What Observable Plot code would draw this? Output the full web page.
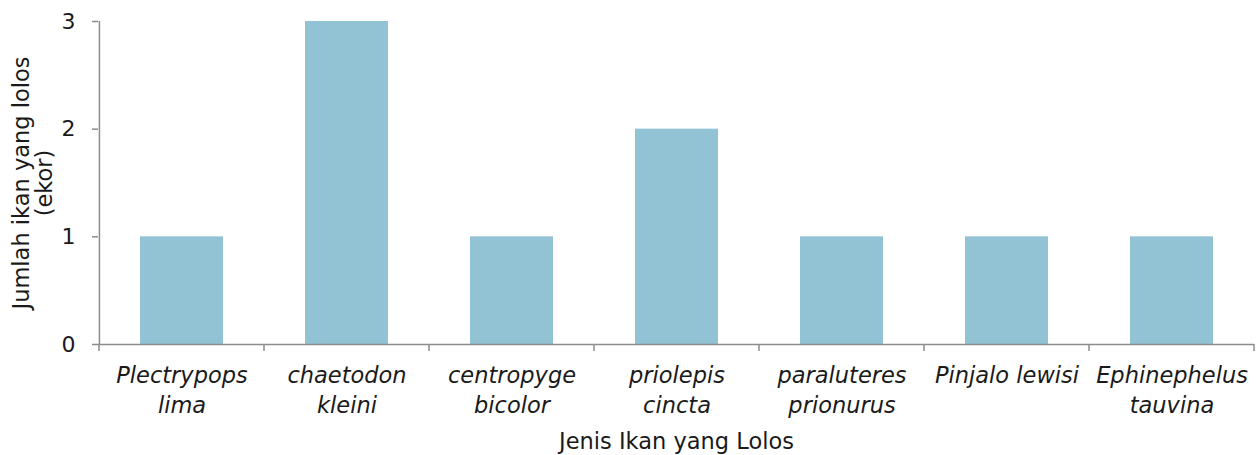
<!DOCTYPE html>
<html>
<head>
<meta charset="utf-8">
<script src="https://cdn.jsdelivr.net/npm/d3@7"></script>
<script src="https://cdn.jsdelivr.net/npm/@observablehq/plot@0.6"></script>
<style>
  html, body { margin: 0; padding: 0; background: #fff; }
  #chart { width: 1257px; height: 455px; }
</style>
</head>
<body>
<div id="chart"></div>
<script>
const categories = ["Plectrypops lima", "chaetodon kleini", "centropyge bicolor", "priolepis cincta", "paraluteres prionurus", "Pinjalo lewisi", "Ephinephelus tauvina"];
const tickLabels = ["Plectrypops\nlima", "chaetodon\nkleini", "centropyge\nbicolor", "priolepis\ncincta", "paraluteres\nprionurus", "Pinjalo lewisi", "Ephinephelus\ntauvina"];
const counts = [1, 3, 1, 2, 1, 1, 1];
const yTicks = [0, 1, 2, 3];
const xTitle = "Jenis Ikan yang Lolos";
const yTitle = "Jumlah ikan yang lolos\n(ekor)";

const data = categories.map((c, i) => ({category: c, value: counts[i]}));
const labelOf = new Map(categories.map((c, i) => [c, tickLabels[i]]));

const W = 1257, H = 455;
const mL = 98, mR = 3, mT = 21, mB = 111;
const step = (W - mL - mR) / categories.length;
const axisColor = "#8c8c8c";
const textColor = "#1a1a1a";
const font = "DejaVu Sans, sans-serif";

const plot = Plot.plot({
  width: W,
  height: H,
  marginLeft: mL,
  marginRight: mR,
  marginTop: mT,
  marginBottom: mB,
  style: {fontFamily: font, fontSize: "22px", color: textColor, background: "#fff"},
  x: {domain: categories, paddingInner: 0.5, paddingOuter: 0.25, axis: null},
  y: {domain: [0, 3], axis: null},
  marks: [
    Plot.barY(data, {x: "category", y: "value", fill: "#92c3d4"}),
    // y axis
    Plot.axisY({ticks: yTicks, tickSize: 6, tickPadding: 17, stroke: axisColor, strokeWidth: 1.5, fill: textColor, fontSize: 22, label: null, tickFormat: d => String(d)}),
    Plot.ruleX([categories[0]], {x: d => d, dx: -step / 2, y1: 0, y2: 3, stroke: axisColor, strokeWidth: 1.5}),
    // x axis baseline
    Plot.ruleY([0], {stroke: axisColor, strokeWidth: 1.5}),
    Plot.axisX({tickSize: 0, tickPadding: 18, fontSize: 22.5, fontStyle: "italic", lineHeight: 1.3, textAnchor: "middle", fill: textColor, label: null, tickFormat: d => labelOf.get(d)}),
    // titles
    Plot.text([xTitle], {text: d => d, frameAnchor: "bottom", dy: 97, fontSize: 22.5, fill: textColor, lineAnchor: "middle"}),
    Plot.text([yTitle], {text: d => d, frameAnchor: "left", dx: -65, rotate: -90, fontSize: 22.5, fill: textColor, lineAnchor: "middle", textAnchor: "middle", lineHeight: 1.0})
  ]
});
document.getElementById("chart").appendChild(plot);

// boundary ticks on the x axis (below the baseline), derived from the band scale
const xs = plot.scale("x");
const ys = plot.scale("y");
const y0 = ys.apply(0);
const bounds = categories.map(c => xs.apply(c) - (xs.step - xs.bandwidth) / 2);
bounds.push(bounds[bounds.length - 1] + xs.step);
const svg = d3.select(plot.tagName.toLowerCase() === "svg" ? plot : plot.querySelector("svg"));
svg.append("g").selectAll("line").data(bounds).join("line")
  .attr("x1", d => d).attr("x2", d => d)
  .attr("y1", y0).attr("y2", y0 + 7)
  .attr("stroke", axisColor).attr("stroke-width", 1.5);
</script>
</body>
</html>
